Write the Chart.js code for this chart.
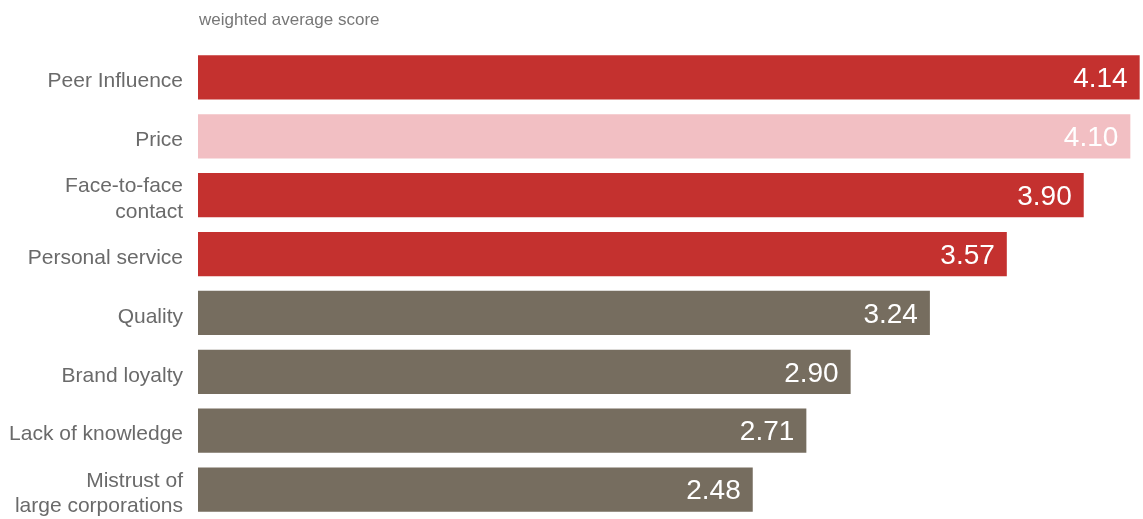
<!DOCTYPE html>
<html>
<head>
<meta charset="utf-8">
<script src="https://cdn.jsdelivr.net/npm/chart.js@4/dist/chart.umd.min.js"></script>
<style>
  html, body { margin: 0; padding: 0; background: #ffffff; }
  #wrap { width: 1143px; height: 519px; position: relative; }
</style>
</head>
<body>
<div id="wrap"><canvas id="chart"></canvas></div>
<script>
// Factors and their weighted average scores
const categories = [
  'Peer Influence',
  'Price',
  ['Face-to-face', 'contact'],
  'Personal service',
  'Quality',
  'Brand loyalty',
  'Lack of knowledge',
  ['Mistrust of', 'large corporations']
];
const scores = [4.14, 4.10, 3.90, 3.57, 3.24, 2.90, 2.71, 2.48];
const barColors = ['#c4312f', '#f2bfc3', '#c4312f', '#c4312f', '#766d5f', '#766d5f', '#766d5f', '#766d5f'];
const subtitle = 'weighted average score';

const FONT = '"Liberation Sans", Arial, Helvetica, sans-serif';

// Value text drawn inside the right end of each bar
const valueLabels = {
  id: 'valueLabels',
  afterDatasetsDraw(chart) {
    const ctx = chart.ctx;
    const meta = chart.getDatasetMeta(0);
    ctx.save();
    ctx.font = '28px ' + FONT;
    ctx.fillStyle = '#ffffff';
    ctx.textAlign = 'right';
    ctx.textBaseline = 'middle';
    meta.data.forEach((bar, i) => {
      ctx.fillText(scores[i].toFixed(2), bar.x - 12, bar.y + 2);
    });
    ctx.restore();
  }
};

// Small caption above the bars
const caption = {
  id: 'caption',
  afterDraw(chart) {
    const ctx = chart.ctx;
    ctx.save();
    ctx.font = '17px ' + FONT;
    ctx.fillStyle = '#777777';
    ctx.textAlign = 'left';
    ctx.textBaseline = 'alphabetic';
    ctx.fillText(subtitle, chart.chartArea.left + 1, 25);
    ctx.restore();
  }
};

new Chart(document.getElementById('chart'), {
  type: 'bar',
  data: {
    labels: categories,
    datasets: [{
      data: scores,
      backgroundColor: barColors,
      borderWidth: 0,
      barPercentage: 0.75,
      categoryPercentage: 1.0
    }]
  },
  options: {
    indexAxis: 'y',
    responsive: true,
    maintainAspectRatio: false,
    animation: false,
    layout: { padding: { top: 48, right: 1, bottom: 0, left: 0 } },
    plugins: {
      legend: { display: false },
      tooltip: { enabled: false },
      title: { display: false }
    },
    scales: {
      x: {
        display: false,
        min: 0.1,
        max: 4.15
      },
      y: {
        grid: { display: false, drawTicks: false },
        border: { display: false },
        ticks: {
          color: '#6a6a6a',
          padding: 15,
          labelOffset: 4,
          font: { family: FONT, size: 21, lineHeight: 1.2 }
        },
        afterFit(scale) {
          scale.width = 198;
          scale.paddingTop = 0;
          scale.paddingBottom = 0;
        }
      }
    }
  },
  plugins: [valueLabels, caption]
});
</script>
</body>
</html>
